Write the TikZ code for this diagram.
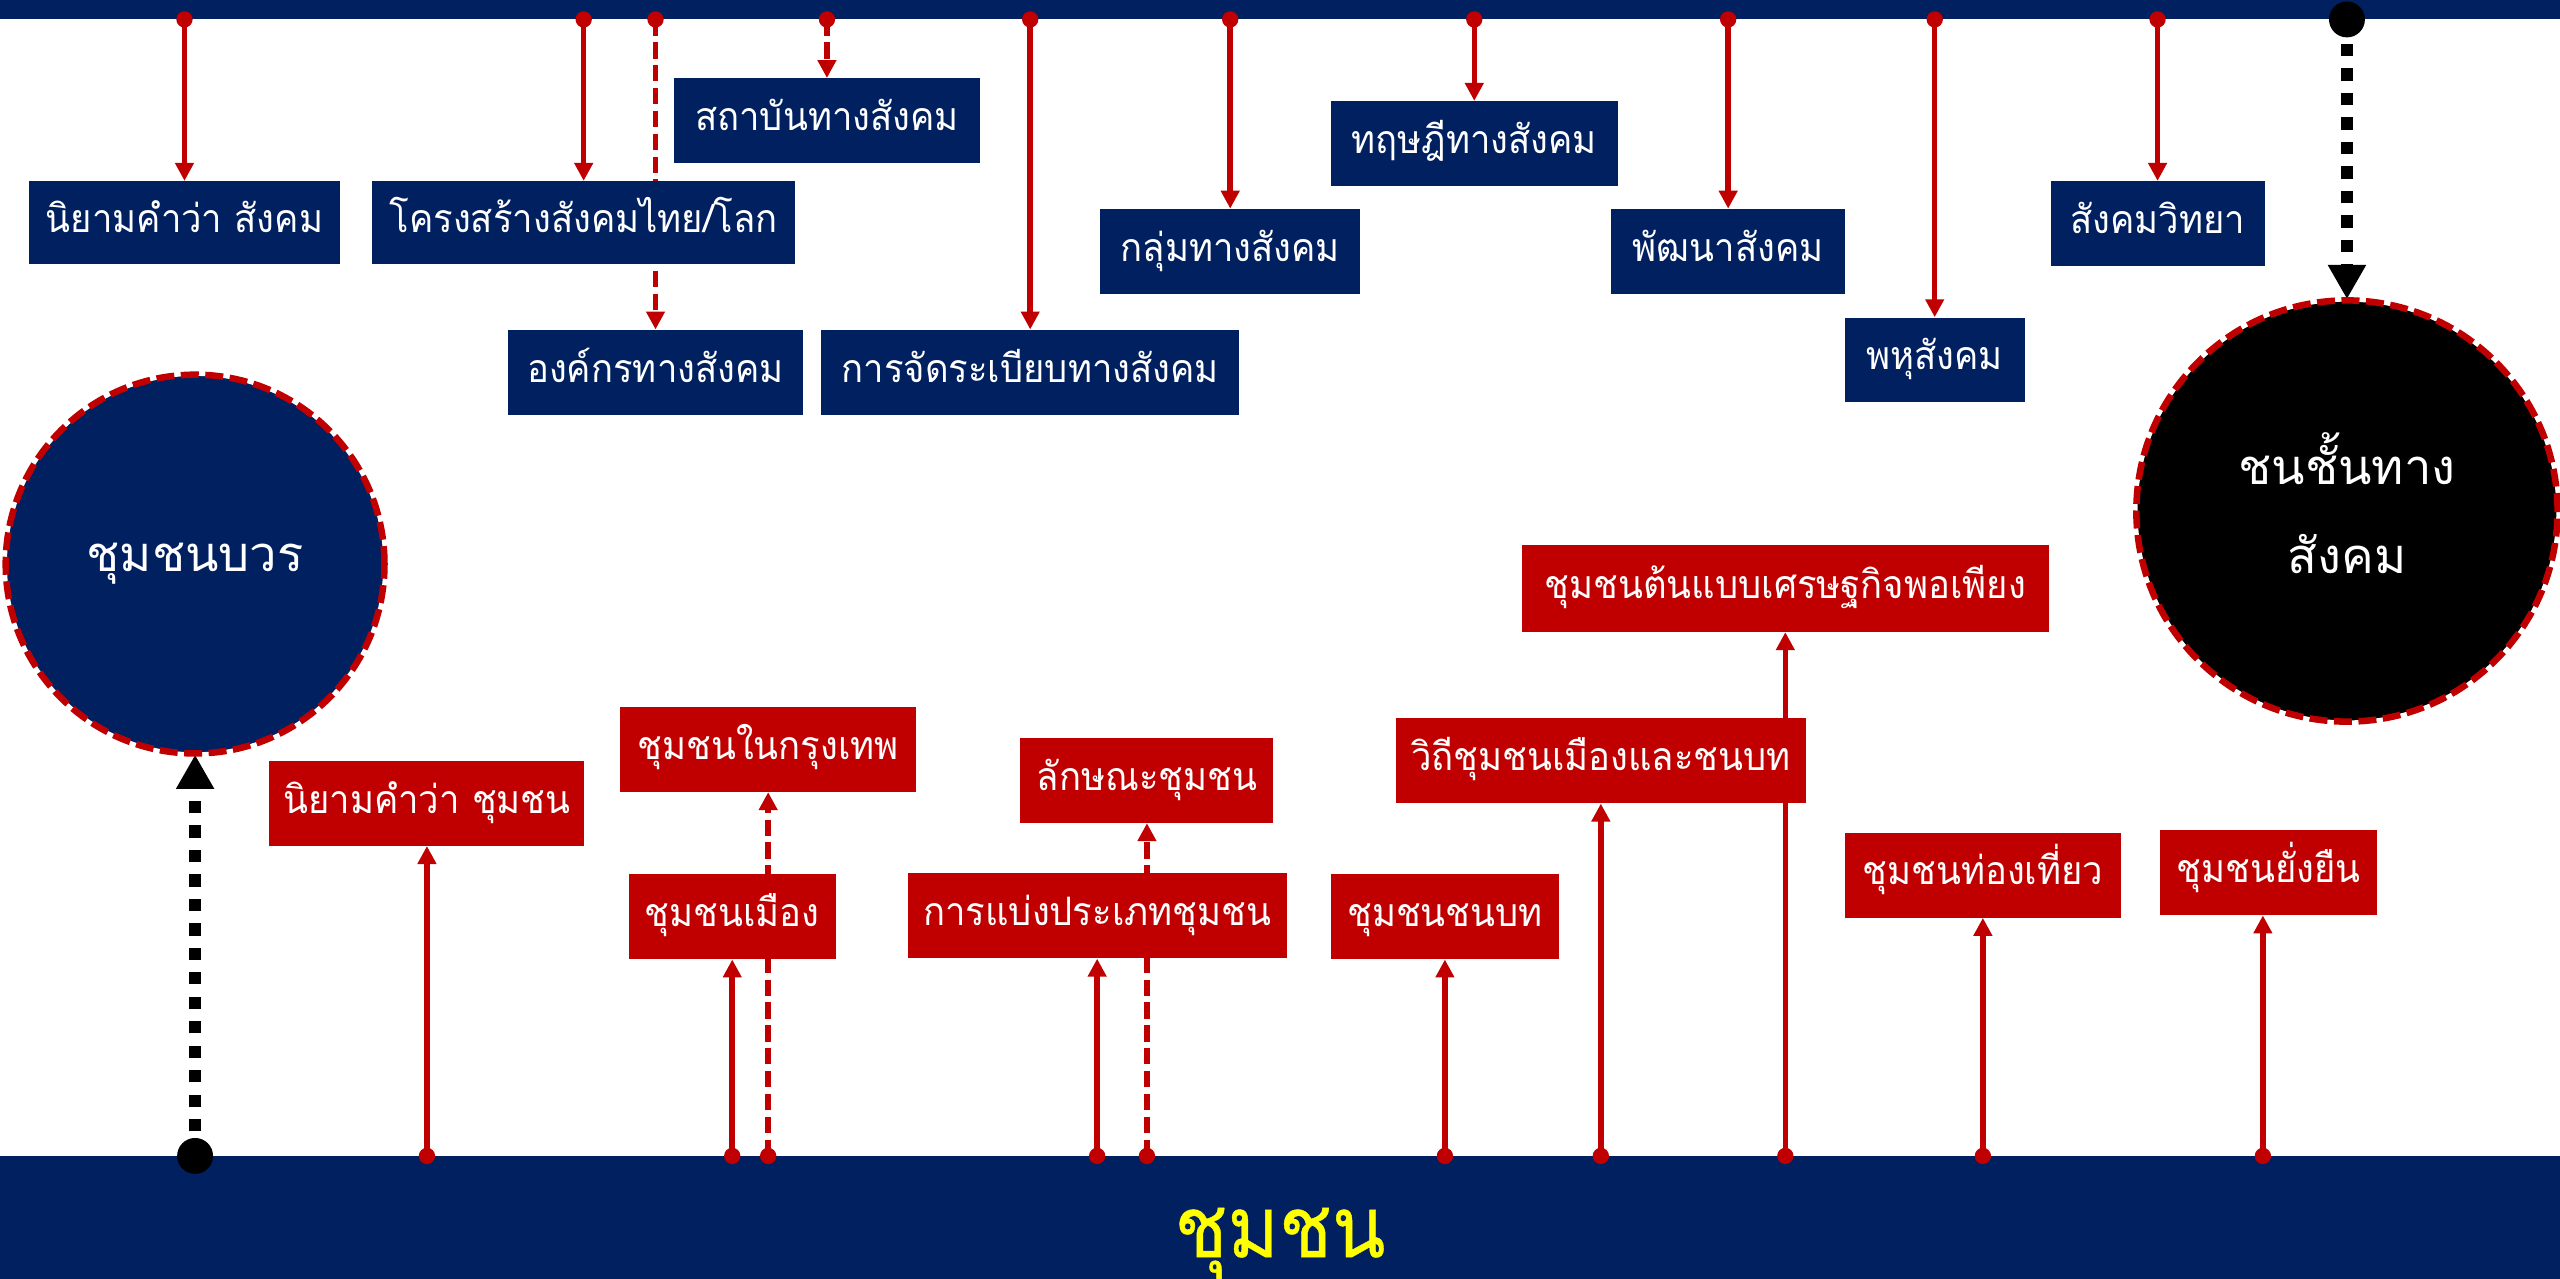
\documentclass[tikz,border=0pt]{standalone}
\usepackage{fontspec}
\newfontfamily\thaifont[Script=Thai]{Loma}
\newfontfamily\thainarrow[Script=Thai,FakeStretch=0.93]{Loma}
\newfontfamily\thaiheavy[Script=Thai,FakeBold=0.5,FakeStretch=0.92]{Loma}
\usetikzlibrary{arrows.meta}
\definecolor{navy}{HTML}{002060}
\definecolor{dred}{HTML}{C00000}
\definecolor{yel}{HTML}{FFFF00}
\pgfdeclarelayer{bg}\pgfdeclarelayer{fg}\pgfsetlayers{bg,main,fg}
\begin{document}
\begin{tikzpicture}[x=1pt,y=-1pt,
  box/.style={inner sep=0pt, text=white, font=\thainarrow\fontsize{24}{28}\selectfont, text height=17pt, text depth=5pt},
  nbox/.style={box, fill=navy},
  rbox/.style={box, fill=dred},
  bar/.style={fill=navy, inner sep=0pt, anchor=north west, minimum width=1568pt},
  rline/.style={draw=dred, line width=3.4pt, -{Triangle[length=11pt,width=11pt]}},
  rdash/.style={rline, dash pattern=on 10pt off 4pt},
  bline/.style={draw=black, line width=7.4pt, dash pattern=on 7.5pt off 7.5pt, -{Triangle[length=21pt,width=22pt]}},
  circ/.style={circle, inner sep=0pt, text=white, font=\thaifont\fontsize{30}{55}\selectfont,
    line width=1.5pt, draw=white, postaction={draw=dred, line width=4pt, dash pattern=on 11pt off 4pt}}
]
\useasboundingbox (0,0) rectangle (1568,783);
\begin{pgfonlayer}{bg}
\node[bar, minimum height=11.5pt] (topbar) at (0,0) {};
\node[bar, minimum height=75pt] (botbar) at (0,708) {};
\end{pgfonlayer}
\begin{pgfonlayer}{fg}
\node[font=\thaiheavy\fontsize{52}{58}\selectfont, text=yel, text height=35pt, text depth=5pt, inner sep=0pt] (title) at (784,755) {ชุมชน};
% top boxes
\node[nbox, minimum width=190pt, minimum height=51pt] (s1) at (113,136.5) {นิยามคำว่า สังคม};
\node[nbox, minimum width=259pt, minimum height=51pt] (s2) at (357.5,136.5) {โครงสร้างสังคมไทย/โลก};
\node[nbox, minimum width=181pt, minimum height=52pt] (s3) at (401.5,228) {องค์กรทางสังคม};
\node[nbox, minimum width=187pt, minimum height=52pt] (s4) at (506.5,74) {สถาบันทางสังคม};
\node[nbox, minimum width=256pt, minimum height=52pt] (s5) at (631,228) {การจัดระเบียบทางสังคม};
\node[nbox, minimum width=159pt, minimum height=52pt] (s6) at (753.5,154) {กลุ่มทางสังคม};
\node[nbox, minimum width=176pt, minimum height=52pt] (s7) at (903,88) {ทฤษฎีทางสังคม};
\node[nbox, minimum width=143pt, minimum height=52pt] (s8) at (1058.5,154) {พัฒนาสังคม};
\node[nbox, minimum width=110pt, minimum height=52pt] (s9) at (1185,220.5) {พหุสังคม};
\node[nbox, minimum width=131pt, minimum height=52pt] (s10) at (1321.5,137) {สังคมวิทยา};
% bottom boxes
\node[rbox, minimum width=193pt, minimum height=52pt] (ca) at (261.5,492) {นิยามคำว่า ชุมชน};
\node[rbox, minimum width=127pt, minimum height=52pt] (cb) at (448.5,561.5) {ชุมชนเมือง};
\node[rbox, minimum width=181pt, minimum height=52pt] (cc) at (470.5,459) {ชุมชนในกรุงเทพ};
\node[rbox, minimum width=232pt, minimum height=52pt] (cd) at (672,561) {การแบ่งประเภทชุมชน};
\node[rbox, minimum width=155pt, minimum height=52pt] (ce) at (702.5,478) {ลักษณะชุมชน};
\node[rbox, minimum width=140pt, minimum height=52pt] (cf) at (885,561.5) {ชุมชนชนบท};
\node[rbox, minimum width=251pt, minimum height=52pt] (cg) at (980.5,466) {วิถีชุมชนเมืองและชนบท};
\node[rbox, minimum width=323pt, minimum height=53pt] (ch) at (1093.5,360.5) {ชุมชนต้นแบบเศรษฐกิจพอเพียง};
\node[rbox, minimum width=169pt, minimum height=52pt] (ci) at (1214.5,536) {ชุมชนท่องเที่ยว};
\node[rbox, minimum width=133pt, minimum height=52pt] (cj) at (1389.5,534.5) {ชุมชนยั่งยืน};
% circles
\node[circ, fill=navy, minimum size=232pt] (c1) at (119.5,345.5) {ชุมชนบวร};
\node[circ, fill=black, minimum size=258pt] (c2) at (1437.5,313) {\raisebox{8pt}{\begin{tabular}{@{}c@{}}ชนชั้นทาง\\สังคม\end{tabular}}};
\end{pgfonlayer}
% top connectors
\foreach \n in {s1,s2,s5,s6,s7,s8,s9,s10}{
  \draw[rline] (topbar.south -| \n.north) -- (\n.north);
  \fill[dred] (topbar.south -| \n.north) circle (5pt);
}
\foreach \n in {s3,s4}{
  \draw[rdash] (topbar.south -| \n.north) -- (\n.north);
  \fill[dred] (topbar.south -| \n.north) circle (5pt);
}
% bottom connectors
\coordinate (jx) at ([xshift=-3.5pt]cj.south);
\foreach \n in {ca,cb,cd,cf,cg,ch,ci,jx}{
  \draw[rline] (botbar.north -| \n) -- (\n |- \n.south);
  \fill[dred] (botbar.north -| \n) circle (5pt);
}
\foreach \n in {cc,ce}{
  \draw[rdash] (botbar.north -| \n.south) -- (\n.south);
  \fill[dred] (botbar.north -| \n.south) circle (5pt);
}
% black connectors
\draw[bline] (topbar.south -| c2.north) -- (c2.north);
\fill (topbar.south -| c2.north) circle (11pt);
\draw[bline] (botbar.north -| c1.south) -- (c1.south);
\fill (botbar.north -| c1.south) circle (11pt);
\end{tikzpicture}
\end{document}
